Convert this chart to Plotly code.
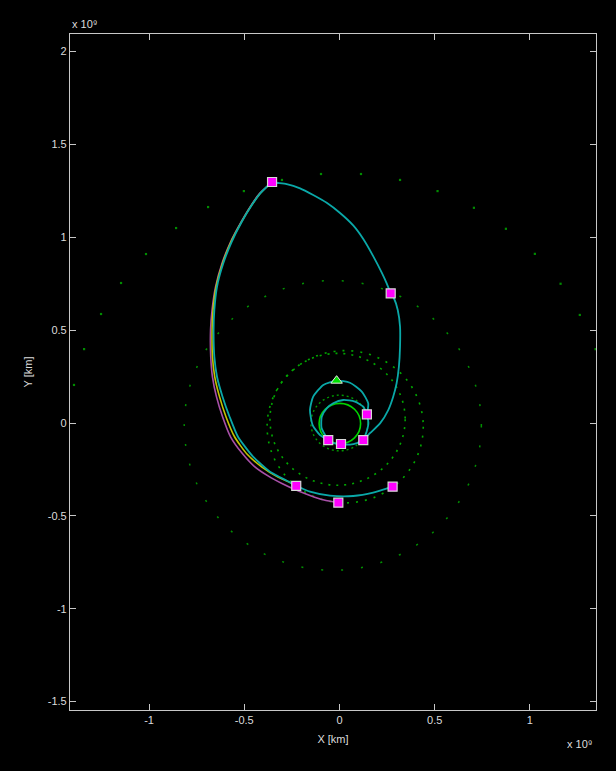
import plotly.graph_objects as go

# All positions in units of 10^9 km (heliocentric X / Y)

# ---- body orbits: circle fits (centre, radius) ----
orbit_names = ["Venus", "Earth", "Body A", "Body B", "Jupiter"]
orbit_cx = [0.002, 0.000, -0.010, 0.030, -0.035]
orbit_cy = [-0.003, 0.000, 0.020, -0.020, -0.013]
orbit_r = [0.109, 0.150, 0.355, 0.410, 0.780]

# Saturn: sampled positions over the mission span
saturn_x = [-1.394, -1.341, -1.252, -1.147, -1.016, -0.858, -0.690, -0.502, -0.302, -0.097,
            0.113, 0.318, 0.515, 0.706, 0.874, 1.026, 1.161, 1.262, 1.345]
saturn_y = [0.205, 0.398, 0.587, 0.754, 0.910, 1.050, 1.163, 1.249, 1.309, 1.341,
            1.341, 1.309, 1.249, 1.159, 1.046, 0.911, 0.750, 0.582, 0.398]

# ---- spacecraft trajectory arcs ----
# loop through the launch point (Earth encounter -> launch -> Venus encounter)
loop_x = [0.144, 0.151, 0.117, 0.055, -0.015, -0.085, -0.138, -0.155, -0.141, -0.102, -0.059]
loop_y = [0.047, 0.106, 0.169, 0.217, 0.228, 0.205, 0.142, 0.070, -0.011, -0.065, -0.092]

# inner arc (Venus encounter -> Earth encounter)
inner_x = [-0.059, -0.094, -0.093, -0.067, -0.033, 0.020, 0.081, 0.125, 0.144]
inner_y = [-0.092, -0.027, 0.034, 0.079, 0.106, 0.124, 0.115, 0.088, 0.047]

# short arc between the two Earth encounters
earth_x = [0.144, 0.152, 0.142, 0.125]
earth_y = [0.047, 0.000, -0.048, -0.092]

# arc along the bottom of the Venus orbit
bottom_x = [-0.059, -0.029, 0.008, 0.055, 0.092, 0.125]
bottom_y = [-0.092, -0.108, -0.113, -0.116, -0.108, -0.092]

# outbound leg: Earth -> Jupiter
out_x = [0.125, 0.160, 0.213, 0.256, 0.282, 0.300, 0.312, 0.318, 0.318, 0.306, 0.286, 0.269]
out_y = [-0.092, -0.055, -0.002, 0.070, 0.142, 0.214, 0.303, 0.411, 0.519, 0.609, 0.672, 0.698]

# Jupiter -> aphelion
top_x = [0.269, 0.248, 0.222, 0.177, 0.125, 0.072, 0.003, -0.067, -0.138, -0.207,
         -0.277, -0.330, -0.354]
top_y = [0.698, 0.752, 0.810, 0.899, 0.991, 1.064, 1.131, 1.186, 1.228, 1.264,
         1.287, 1.294, 1.298]

# return leg (nominal)
back_x = [-0.354, -0.416, -0.460, -0.513, -0.566, -0.610, -0.643, -0.657, -0.661, -0.657,
          -0.643, -0.614, -0.577, -0.533, -0.454, -0.365, -0.276, -0.227]
back_y = [1.298, 1.237, 1.174, 1.084, 0.976, 0.860, 0.734, 0.609, 0.501, 0.357,
          0.249, 0.142, 0.034, -0.074, -0.181, -0.262, -0.311, -0.338]

# final arc after the return encounter
final_x = [-0.227, -0.155, -0.050, 0.072, 0.177, 0.279]
final_y = [-0.338, -0.370, -0.391, -0.393, -0.375, -0.343]

# return leg, variant 1
alt1_x = [-0.354, -0.417, -0.462, -0.515, -0.570, -0.614, -0.648, -0.664, -0.669, -0.667,
          -0.655, -0.630, -0.596, -0.551, -0.486, -0.407, -0.323, -0.260, -0.227]
alt1_y = [1.298, 1.236, 1.172, 1.082, 0.975, 0.859, 0.732, 0.609, 0.501, 0.357,
          0.249, 0.142, 0.034, -0.074, -0.167, -0.237, -0.291, -0.320, -0.338]

# return leg, variant 2
alt2_x = [-0.354, -0.420, -0.465, -0.517, -0.572, -0.617, -0.651, -0.669, -0.677, -0.676,
          -0.667, -0.646, -0.614, -0.572, -0.512, -0.449, -0.375, -0.302, -0.228,
          -0.155, -0.081, -0.006]
alt2_y = [1.298, 1.236, 1.171, 1.082, 0.975, 0.859, 0.732, 0.609, 0.501, 0.357,
          0.249, 0.142, 0.034, -0.074, -0.162, -0.232, -0.285, -0.326, -0.361,
          -0.390, -0.415, -0.429]

# encounter points
enc_x = [-0.354, 0.269, 0.144, -0.059, 0.008, 0.125, -0.227, -0.006, 0.279]
enc_y = [1.298, 0.698, 0.047, -0.092, -0.113, -0.092, -0.338, -0.429, -0.343]

# launch point
start_x = [-0.015]
start_y = [0.228]

# axis ticks
x_ticks = [-1, -0.5, 0, 0.5, 1]
x_ticklabels = ["-1", "-0.5", "0", "0.5", "1"]
y_ticks = [-1.5, -1, -0.5, 0, 0.5, 1, 1.5, 2]
y_ticklabels = ["-1.5", "-1", "-0.5", "0", "0.5", "1", "1.5", "2"]
exponent_label = "x 10\u2079"

# ---- styles ----
orbit_styles = [
    dict(color="#00d400", width=1.6, dash="solid"),
    dict(color="#009a00", width=1.4, dash="2px,3px"),
    dict(color="#00a800", width=1.6, dash="2px,6px"),
    dict(color="#00a800", width=1.6, dash="2px,7px"),
    dict(color="#009000", width=1.5, dash="2px,18px"),
]
CYAN = "#0aa8a8"
YELLOW = "#c4c400"
PURPLE = "#a850a8"
FONT = "Liberation Sans, DejaVu Sans, Arial, sans-serif"

fig = go.Figure()

shapes = []
for cx, cy, r, st in zip(orbit_cx, orbit_cy, orbit_r, orbit_styles):
    shapes.append(dict(type="circle", xref="x", yref="y",
                       x0=cx - r, x1=cx + r, y0=cy - r, y1=cy + r,
                       line=st, layer="below"))

fig.add_trace(go.Scatter(x=saturn_x, y=saturn_y, mode="markers",
                         marker=dict(symbol="square", size=2.2, color="#008c00",
                                     line=dict(width=0)),
                         hoverinfo="skip"))


def arc(x, y, color, width=1.8):
    fig.add_trace(go.Scatter(x=x, y=y, mode="lines",
                             line=dict(color=color, width=width, shape="spline", smoothing=0.6),
                             hoverinfo="skip"))


arc(alt2_x, alt2_y, PURPLE, 1.6)
arc(alt1_x, alt1_y, YELLOW, 1.6)
arc(loop_x, loop_y, CYAN)
arc(inner_x, inner_y, CYAN)
arc(earth_x, earth_y, CYAN)
arc(bottom_x, bottom_y, CYAN)
arc(out_x, out_y, CYAN)
arc(top_x, top_y, CYAN)
arc(back_x, back_y, CYAN)
arc(final_x, final_y, CYAN)

fig.add_trace(go.Scatter(x=enc_x, y=enc_y, mode="markers",
                         marker=dict(symbol="square", size=9, color="#ff00ff",
                                     line=dict(color="#d8d8d8", width=1.2)),
                         hoverinfo="skip"))
fig.add_trace(go.Scatter(x=start_x, y=start_y, mode="markers",
                         marker=dict(symbol="triangle-up", size=10, color="#00e000",
                                     line=dict(color="#e8e8e8", width=1)),
                         hoverinfo="skip"))

axis_style = dict(showgrid=False, zeroline=False, showline=True, linecolor="#c8c8c8",
                  linewidth=1.2, mirror="ticks", ticks="inside", ticklen=6,
                  tickcolor="#c8c8c8", tickwidth=1.2,
                  tickfont=dict(family=FONT, size=11, color="#dcdcdc"))

label_font = dict(family=FONT, size=11, color="#dcdcdc")

fig.update_xaxes(range=[-1.415, 1.347], tickvals=x_ticks, ticktext=x_ticklabels,
                 title=dict(text="X [km]", font=label_font, standoff=10), **axis_style)
fig.update_yaxes(range=[-1.5455, 2.095], tickvals=y_ticks, ticktext=y_ticklabels,
                 title=dict(text="Y [km]", font=label_font, standoff=12), **axis_style)

annotations = [
    dict(text=exponent_label, x=0.0, y=1.0148, xref="paper", yref="paper",
         showarrow=False, xanchor="left", yanchor="middle", font=label_font),
    dict(text=exponent_label, x=0.941, y=-0.0503, xref="paper", yref="paper",
         showarrow=False, xanchor="left", yanchor="middle", font=label_font),
]

fig.update_layout(
    width=616, height=771,
    paper_bgcolor="black", plot_bgcolor="black",
    margin=dict(l=70, r=20, t=34, b=61, autoexpand=False),
    showlegend=False,
    shapes=shapes,
    annotations=annotations,
)

fig.write_html("out.html")
